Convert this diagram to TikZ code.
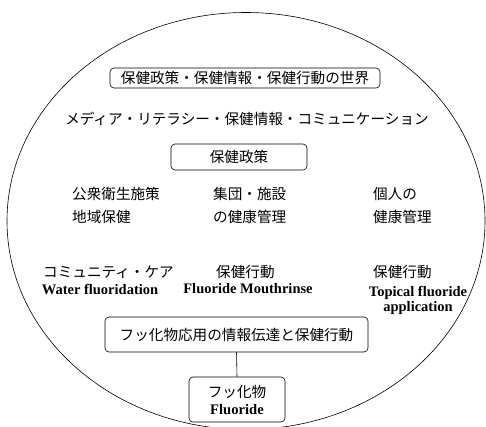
\documentclass[tikz,border=0pt]{standalone}
\usepackage{fontspec}
\newfontfamily\jp{Noto Sans CJK JP}
\newfontfamily\lser{Liberation Serif}
\begin{document}
\begin{tikzpicture}[x=1pt,y=-1pt,
  jt/.style={inner sep=0pt,font=\jp\fontsize{14.6}{16}\selectfont},
  et/.style={inner sep=0pt,font=\lser\bfseries\fontsize{14.5}{15}\selectfont},
  rbox/.style={draw,rounded corners=4pt,fill=white,line width=0.6pt,inner sep=0pt,align=center}]
\useasboundingbox (0,0) rectangle (486,426);
\draw[line width=0.6pt] (246,221) ellipse [x radius=239pt, y radius=208.5pt];
\node[rbox,jt,minimum width=270pt,minimum height=20pt] (world) at (245,78) {保健政策・保健情報・保健行動の世界};
\node[jt] (media) at (247,119) {メディア・リテラシー・保健情報・コミュニケーション};
\node[rbox,jt,minimum width=136pt,minimum height=26pt] (policy) at (239,157) {保健政策};
\node[jt,anchor=west] (pub) at (72,194) {公衆衛生施策};
\node[jt,anchor=west] (area) at (72,217) {地域保健};
\node[jt,anchor=west] (grp) at (213,194) {集団・施設};
\node[jt,anchor=west] (grpm) at (213,217) {の健康管理};
\node[jt,anchor=west] (ind) at (373,194) {個人の};
\node[jt,anchor=west] (indm) at (373,217) {健康管理};
\node[jt,anchor=west] (comm) at (43,272) {コミュニティ・ケア};
\node[jt,anchor=west] (act1) at (216,272) {保健行動};
\node[jt,anchor=west] (act2) at (373,272) {保健行動};
\node[et] (water) at (100,289) {Water fluoridation};
\node[et] (mouth) at (248,289) {Fluoride Mouthrinse};
\node[et,align=center] (topical) at (418,300) {Topical fluoride\\application};
\node[rbox,jt,minimum width=263pt,minimum height=35pt] (info) at (236.5,334.5) {フッ化物応用の情報伝達と保健行動};
\node[rbox,minimum width=96pt,minimum height=45pt,font=\fontsize{14.6}{17}\selectfont] (fl) at (237,399.5) {{\jp フッ化物}\\{\lser\bfseries Fluoride}};
\draw[line width=0.6pt] (info.south) -- (fl.north);
\end{tikzpicture}
\end{document}
